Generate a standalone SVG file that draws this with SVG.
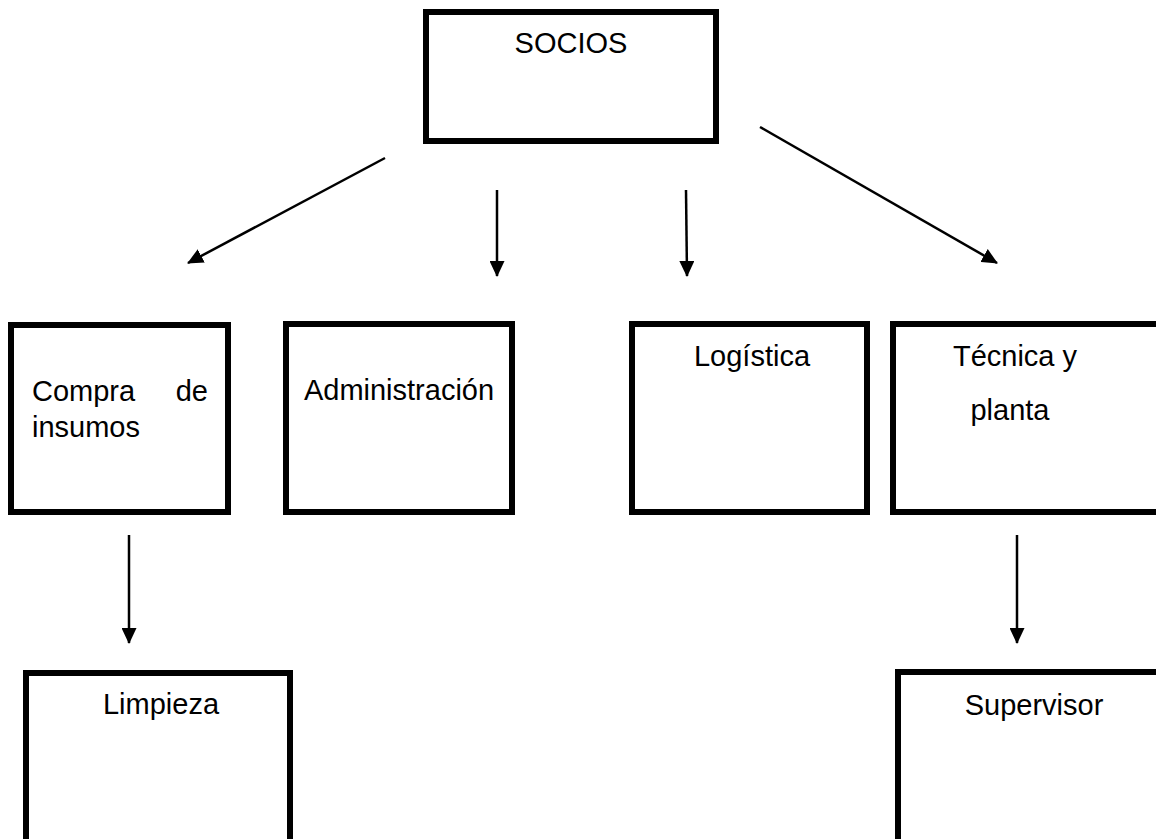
<svg xmlns="http://www.w3.org/2000/svg" width="1156" height="839" viewBox="0 0 1156 839">
<style>
.box{fill:#fff;stroke:#000;stroke-width:6}
.t{font-family:"Liberation Sans",Arial,sans-serif;font-size:29px;fill:#000}
.c{text-anchor:middle}
.ln{stroke:#000;stroke-width:2.5;fill:none;marker-end:url(#ah)}
</style>
<defs>
<marker id="ah" viewBox="0 0 16 15" refX="15" refY="7.5" markerWidth="16" markerHeight="15" markerUnits="userSpaceOnUse" orient="auto">
<path d="M0,0 L16,7.5 L0,15 z" fill="#000"/>
</marker>
</defs>
<rect width="1156" height="839" fill="#fff"/>
<g id="connectors">
<line class="ln" x1="385" y1="158" x2="188" y2="263"/>
<line class="ln" x1="497" y1="190" x2="497" y2="276"/>
<line class="ln" x1="686" y1="190" x2="687" y2="276"/>
<line class="ln" x1="760" y1="127" x2="997" y2="263"/>
<line class="ln" x1="129" y1="535" x2="129" y2="643"/>
<line class="ln" x1="1017" y1="535" x2="1017" y2="643"/>
</g>
<g id="socios">
<rect class="box" x="426" y="12" width="290" height="129"/>
<text class="t c" x="571" y="53">SOCIOS</text>
</g>
<g id="compra">
<rect class="box" x="11" y="325" width="217" height="187"/>
<text class="t" x="32" y="401">Compra</text>
<text class="t" x="208" y="401" text-anchor="end">de</text>
<text class="t" x="32" y="437">insumos</text>
</g>
<g id="administracion">
<rect class="box" x="286" y="324" width="226" height="188"/>
<text class="t c" x="399" y="400">Administración</text>
</g>
<g id="logistica">
<rect class="box" x="632" y="324" width="235" height="188"/>
<text class="t c" x="752" y="366">Logística</text>
</g>
<g id="tecnica">
<rect class="box" x="893" y="324" width="280" height="188"/>
<text class="t c" x="1015" y="366">Técnica y</text>
<text class="t c" x="1010" y="420">planta</text>
</g>
<g id="limpieza">
<rect class="box" x="26" y="673" width="264" height="180"/>
<text class="t c" x="161" y="714">Limpieza</text>
</g>
<g id="supervisor">
<rect class="box" x="898" y="672" width="280" height="180"/>
<text class="t c" x="1034" y="715">Supervisor</text>
</g>
</svg>
